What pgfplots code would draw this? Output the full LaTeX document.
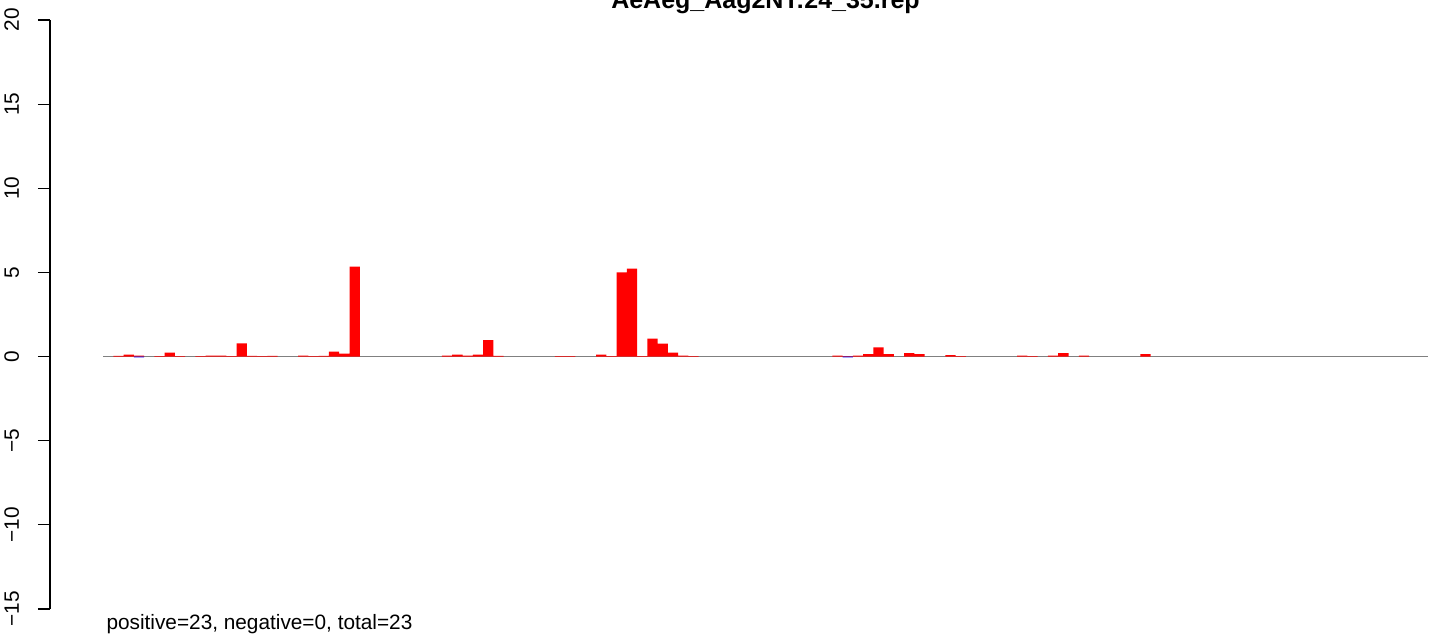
\documentclass[border=0pt]{standalone}
\usepackage{fontspec}
\setmainfont{Liberation Sans}
\usepackage{pgfplots}
\pgfplotsset{compat=1.18}
\definecolor{rred}{RGB}{255,0,0}
\definecolor{rblue}{RGB}{0,0,255}
\definecolor{rgray}{RGB}{128,128,128}
\newcommand{\rfont}{\fontsize{20.8}{25}\selectfont}

\begin{document}
\begin{tikzpicture}
\begin{axis}[
    scale only axis,
    width=1378pt, height=589pt,
    xmin=-5.16, xmax=129,
    ymin=-15, ymax=20,
    axis x line=none,
    axis y line*=left,
    axis line style={-, line width=1.1pt},
    ytick={-15,-10,-5,0,5,10,15,20},
    yticklabels={−15,−10,−5,0,5,10,15,20},
    tick align=outside,
    major tick length=12pt,
    every tick/.style={black, line width=1.1pt},
    yticklabel style={xshift=-19pt, rotate=90, anchor=base, font=\rfont},
    clip=false,
]
% zero line
\addplot[rgray, line width=1.6pt, forget plot] coordinates {(0,0) (129,0)};

% positive counts (bar centre = index + 0.5)
\addplot[ybar, bar width=1, bar shift=0, fill=rred, draw=none] coordinates {
    (1.5,0.04) (2.5,0.12) (3.5,0.06) (5.5,0.02) (6.5,0.24) (7.5,0.02)
    (9.5,0.02) (10.5,0.06) (11.5,0.06) (12.5,0.02) (13.5,0.78) (14.5,0.04)
    (15.5,0.02) (16.5,0.04) (19.5,0.06) (20.5,0.02) (21.5,0.04) (22.5,0.30)
    (23.5,0.18) (24.5,5.35)
    (33.5,0.06) (34.5,0.12) (35.5,0.06) (36.5,0.12) (37.5,0.97) (38.5,0.04)
    (44.5,0.02) (45.5,0.02) (48.5,0.12) (49.5,0.02) (50.5,5.00) (51.5,5.22)
    (52.5,0.02) (53.5,1.07) (54.5,0.77) (55.5,0.24) (56.5,0.06) (57.5,0.03)
    (71.5,0.06) (72.5,0.03) (73.5,0.06) (74.5,0.14) (75.5,0.55) (76.5,0.14)
    (78.5,0.20) (79.5,0.14) (82.5,0.08) (83.5,0.02) (89.5,0.06) (90.5,0.02)
    (92.5,0.06) (93.5,0.20) (95.5,0.06) (101.5,0.14)
};
% negative counts
\addplot[ybar, bar width=1, bar shift=0, fill=rblue, draw=none] coordinates {
    (3.5,-0.05) (72.5,-0.05)
};

\node[anchor=base, font=\bfseries\fontsize{25}{30}\selectfont, yshift=11pt]
    at (axis cs:64.5,20) {AeAeg\_Aag2NT:24\_35.rep};
\node[anchor=base west, font=\rfont, yshift=-21pt]
    at (axis cs:0,-15) {positive=23, negative=0, total=23};
\end{axis}
\pgfresetboundingbox
\path[use as bounding box] ([xshift=-50pt,yshift=-30pt]current axis.south west)
    rectangle ([xshift=1pt,yshift=20pt]current axis.north east);
\end{tikzpicture}
\end{document}
